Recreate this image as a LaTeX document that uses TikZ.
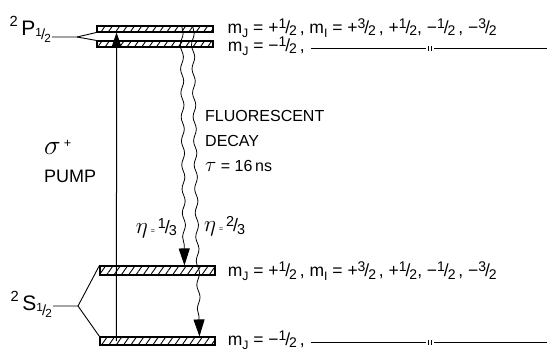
\documentclass[tikz,border=0pt]{standalone}
\usepackage{fix-cm}
\usepackage{fontspec}
\setmainfont{Liberation Sans}
\usetikzlibrary{calc,patterns.meta,arrows.meta,decorations.pathmorphing}

% fraction written as raised numerator / lowered denominator
\newcommand{\fr}[2]{\raisebox{.5ex}{\scalebox{.8}{#1}}\kern-.06em/\kern-.06em\raisebox{-.3ex}{\scalebox{.8}{#2}}}
\newcommand{\lo}[1]{\raisebox{-.45ex}{\scalebox{.7}{#1}}}
\newcommand{\hi}[1]{\raisebox{.75ex}{\scalebox{.7}{#1}}}

\tikzset{
  band/.style={draw, line width=1.1pt, minimum width=116pt, inner sep=0pt,
    pattern={Lines[angle=55,distance=6pt,line width=0.9pt]}},
  fork/.style={line width=0.9pt},
  levtext/.style={anchor=base west, inner sep=0pt, font=\fontsize{17.5}{20}\selectfont},
  termlabel/.style={anchor=base east, inner sep=0pt, font=\fontsize{21}{24}\selectfont},
  bigtext/.style={inner sep=0pt, align=left, font=\fontsize{16}{25}\selectfont},
  pump/.style={line width=1pt, -{Triangle[length=15pt,width=10pt]}},
  decay/.style={line width=0.8pt, -{Triangle[length=17pt,width=11pt]}, decorate,
    decoration={snake, amplitude=1.5pt, segment length=24pt, post length=18pt}},
  dittoline/.style={line width=0.9pt}
}

\begin{document}
\begin{tikzpicture}[x=1pt,y=-1pt]
\useasboundingbox (0,0) rectangle (551,354);

% === P levels ===
\node[band, minimum height=6pt] (Pup) at (155,29) {};
\node[band, minimum height=6pt] (Pdn) at (155,44) {};
\coordinate (Pstem) at (52,37);
\coordinate (Pfork) at (77,37);
\draw[fork] (Pstem) -- (Pfork) -- (Pup.south west);
\draw[fork] (Pfork) -- (Pdn.north west);
\node[termlabel] (Plab) at (51,35) {\hi{2}\,P\lo{\fr12}};

% === S levels ===
\node[band, minimum width=115pt, minimum height=9pt] (Sup) at (157.5,270.5) {};
\node[band, minimum width=115pt, minimum height=8pt] (Sdn) at (157.5,341) {};
\coordinate (Sstem) at (53,306);
\coordinate (Sfork) at (78,306);
\draw[fork] (Sstem) -- (Sfork) -- (Sup.north west);
\draw[fork] (Sfork) -- (Sdn.north west);
\node[termlabel] (Slab) at (52,310) {\hi{2}\,S\lo{\fr12}};

% === pump and decay ===
\draw[pump] ([xshift=17pt]Sdn.west) -- ([xshift=20pt]Pup.south west);
\node[bigtext, anchor=north west, font=\fontsize{18}{28}\selectfont] (pumplab) at (44,140) {{\fontsize{28}{28}\selectfont$\sigma$}\,\hi{+}\\PUMP};
\draw[decay] ([xshift=85pt]Pup.north west) -- ([xshift=85pt]Sup.north west);
\draw[decay] ([xshift=96pt]Pup.north west) -- ([xshift=100pt]Sdn.north west);
\node[bigtext, anchor=north west] (decaylab) at (205,110) {FLUORESCENT\\DECAY\\{\fontsize{21}{21}\selectfont$\tau$} = 16\,ns};
\node[bigtext, anchor=east, font=\fontsize{18}{25}\selectfont] (eta1) at (177,228) {{\fontsize{23}{23}\selectfont$\eta$}\,{\scriptsize=}\,\fr13};
\node[bigtext, anchor=west, font=\fontsize{18}{25}\selectfont] (eta2) at (204,226) {{\fontsize{23}{23}\selectfont$\eta$}\,{\scriptsize=}\,\fr23};

% === sublevel labels ===
\node[levtext] (PupT) at ($(Pup.east)+(14,4)$) {m\lo{J} = +\fr12\,, m\lo{$\mathrm{I}$} = +\fr32\,, +\fr12, −\fr12\,, −\fr32};
\node[levtext] (PdnT) at ($(Pdn.east)+(14,7)$) {m\lo{J} = −\fr12\,,};
\node[inner sep=2pt] (Pditto) at (430,48) {\rule{0.8pt}{5pt}\kern1.5pt\rule{0.8pt}{5pt}};
\coordinate (PdEnd) at (547,48);
\draw[dittoline] ($(PdnT.base east)+(6,-3)$) -- (Pditto) -- (PdEnd);

\node[levtext] (SupT) at ($(Sup.east)+(12,6)$) {m\lo{J} = +\fr12\,, m\lo{$\mathrm{I}$} = +\fr32\,, +\fr12, −\fr12\,, −\fr32};
\node[levtext] (SdnT) at ($(Sdn.east)+(12,4)$) {m\lo{J} = −\fr12\,,};
\node[inner sep=2pt] (Sditto) at (430,342) {\rule{0.8pt}{5pt}\kern1.5pt\rule{0.8pt}{5pt}};
\coordinate (SdEnd) at (547,342);
\draw[dittoline] ($(SdnT.base east)+(6,-3)$) -- (Sditto) -- (SdEnd);

\end{tikzpicture}
\end{document}
